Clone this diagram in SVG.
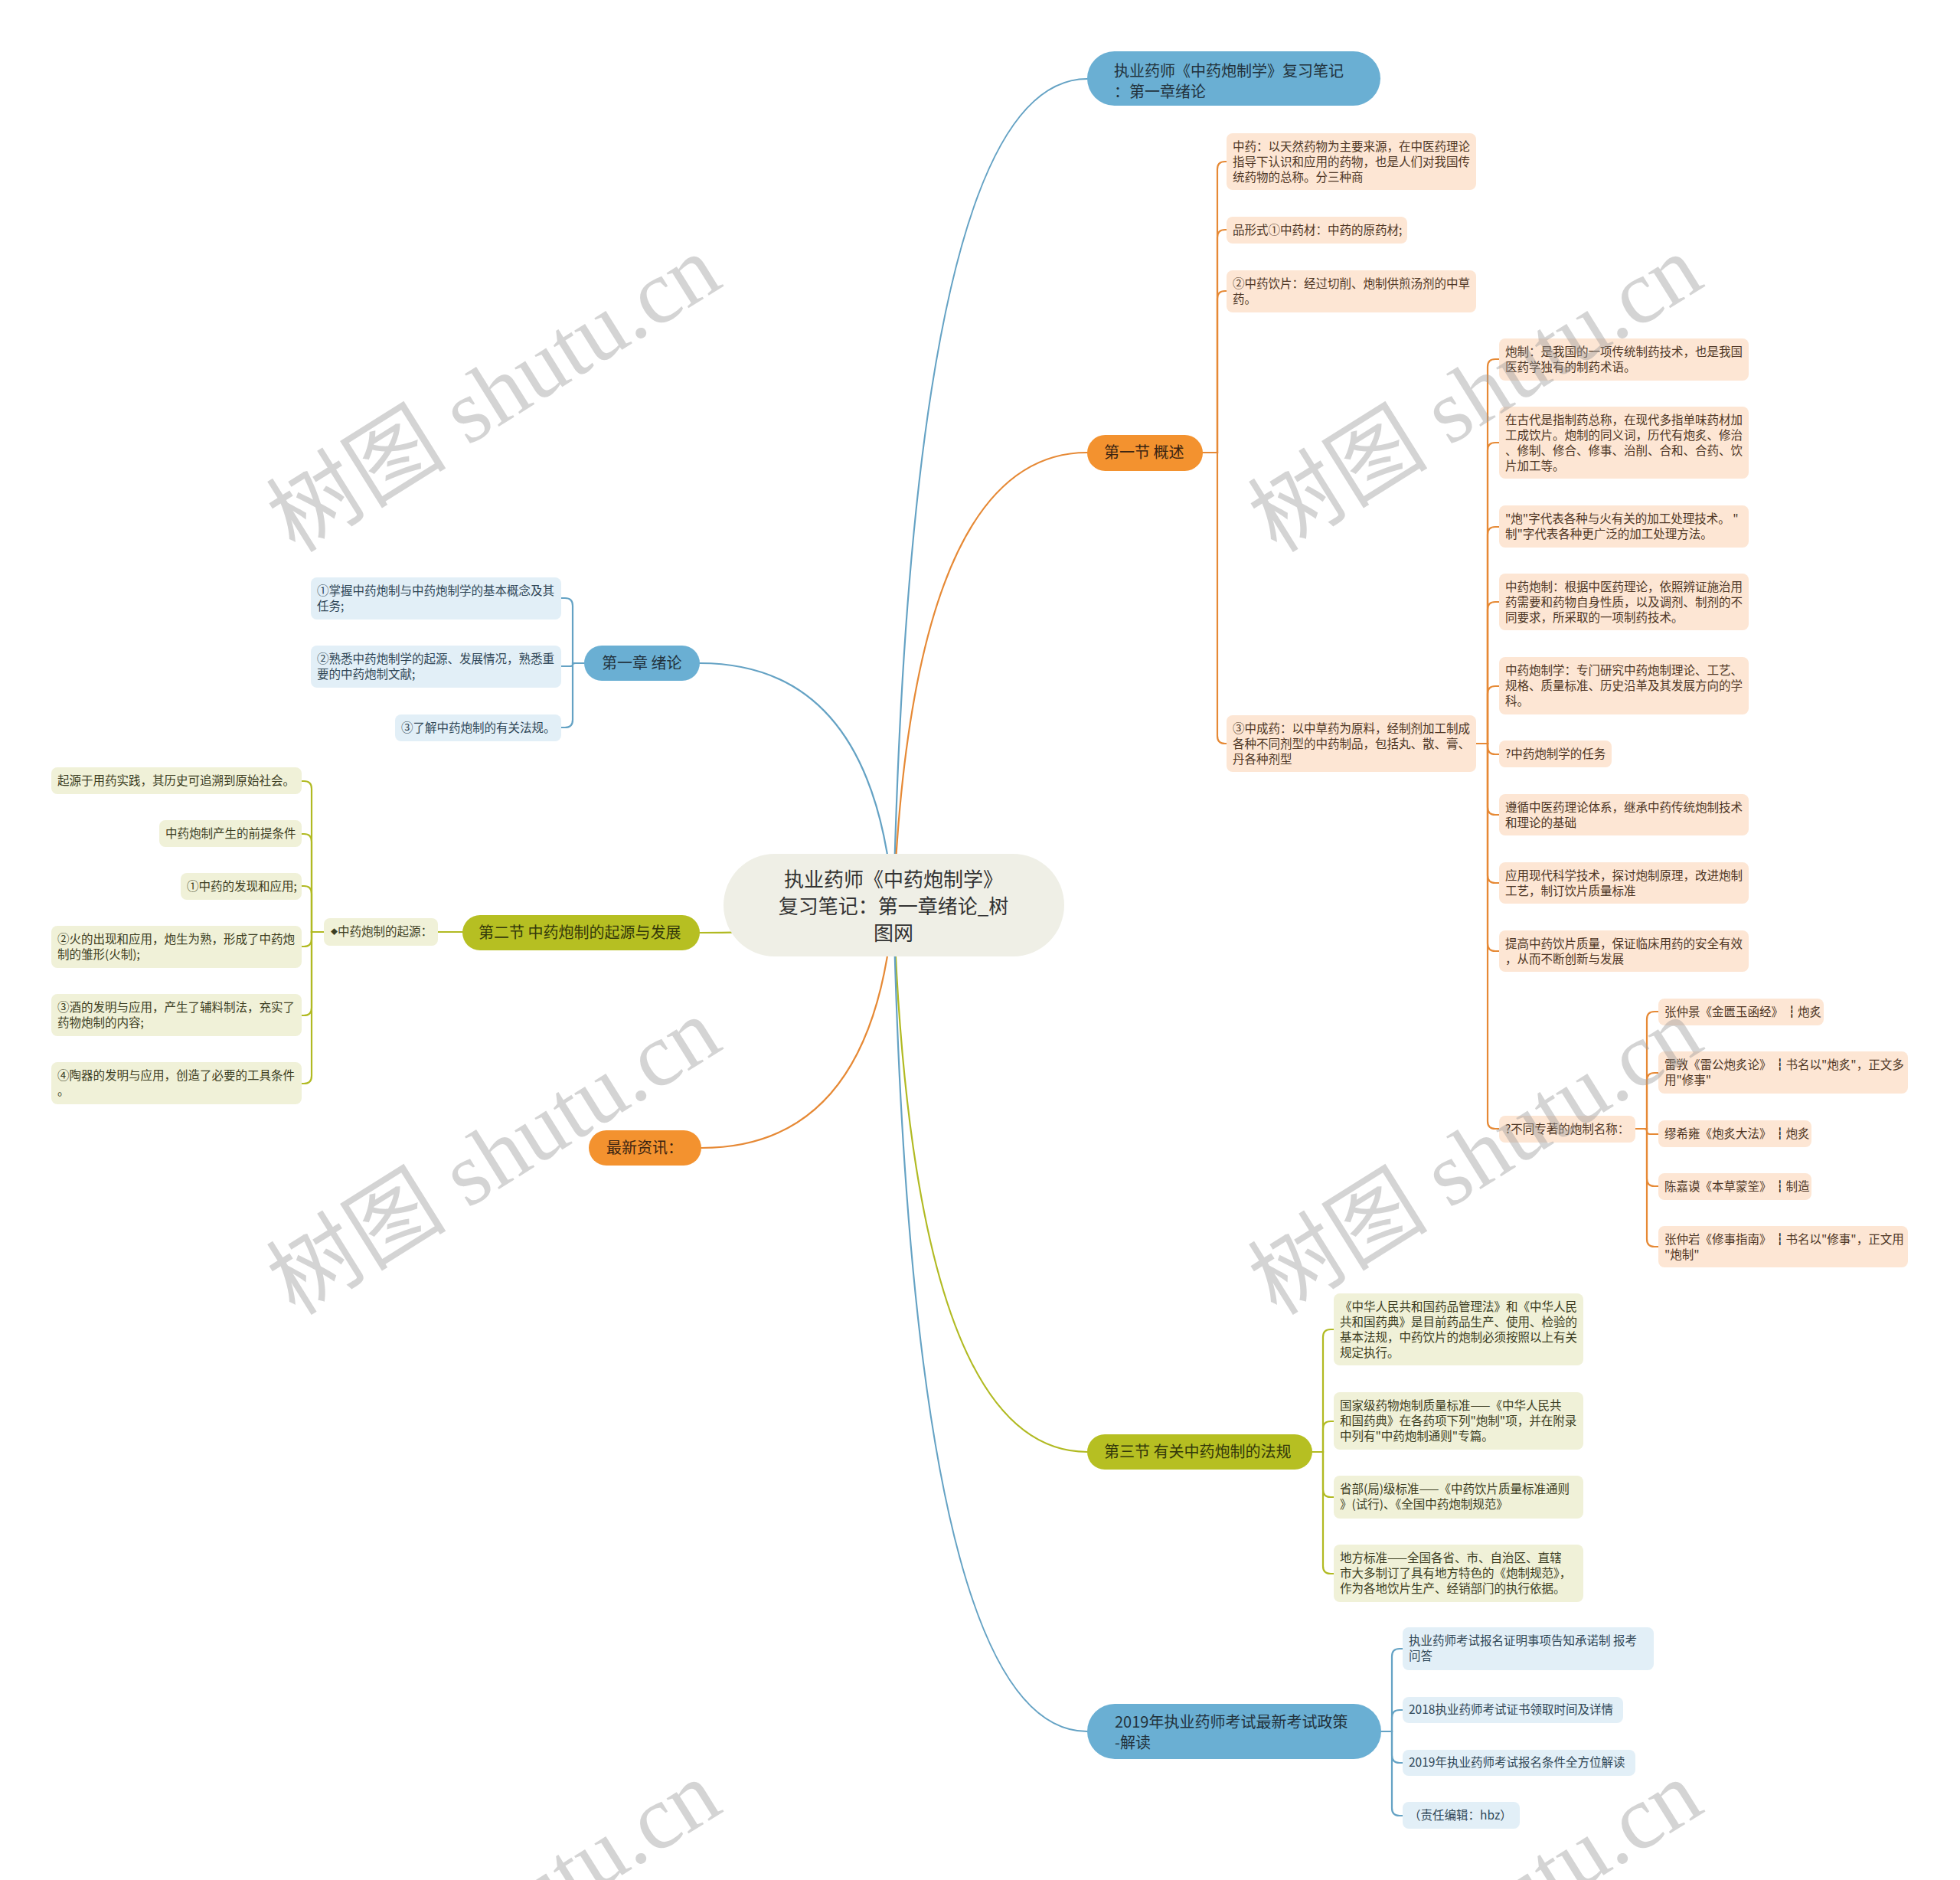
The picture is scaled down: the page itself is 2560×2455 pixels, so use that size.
<svg xmlns="http://www.w3.org/2000/svg" width="2560" height="2455" viewBox="0 0 2560 2455">
<style>
text{font-family:'Noto Sans CJK SC','Noto Sans',sans-serif}
.m{font-size:20px}
.l{font-size:15.5px}
.r{font-size:26px;fill:#333;text-anchor:middle}
.nb{fill:#6aafd3}.no{fill:#f3922f}.ng{fill:#b6bf22}
.tb{fill:#22323c}.to{fill:#3b2412}.tg{fill:#33380a}
.lo{fill:#fde6d4}.lb{fill:#e2eff7}.lg{fill:#f0f1d8}
.xo{fill:#4e3625}.xb{fill:#2f4656}.xg{fill:#3c3d22}
.bar{font-weight:900;fill:#2a1a0e;stroke:#2a1a0e;stroke-width:0.8}
.c{fill:none;stroke-width:2.2;stroke-linecap:round}
.cb{stroke:#64a2c4}.co{stroke:#e68935}.cg{stroke:#b1ba22}
.wm{font-family:'Liberation Serif','Noto Sans CJK SC',serif;font-size:118px;fill:#9a9a9a;opacity:.42;text-anchor:middle}
</style>
<rect width="2560" height="2455" fill="#fff"/>
<g id="connectors">
<path class="c cb" d="M1167 1182 Q1192 103 1420 103"/>
<path class="c co" d="M1167 1182 Q1192 591 1420 591"/>
<path class="c cg" d="M1167 1182 Q1192 1896 1420 1896"/>
<path class="c cb" d="M1167 1182 Q1192 2261 1420 2261"/>
<path class="c cb" d="M1167 1182 Q1142 866 914 866"/>
<path class="c cg" d="M1167 1182 Q1140 1218 914 1218"/>
<path class="c co" d="M1167 1182 Q1142 1499 916 1499"/>
<path class="c co" d="M1571 591 H1590 V221 Q1590 211 1600 211 H1602"/>
<path class="c co" d="M1571 591 H1590 V310 Q1590 300 1600 300 H1602"/>
<path class="c co" d="M1571 591 H1590 V390 Q1590 380 1600 380 H1602"/>
<path class="c co" d="M1571 591 H1590 V961 Q1590 971 1600 971 H1602"/>
<path class="c co" d="M1928 971 H1943 V479 Q1943 469 1953 469 H1958"/>
<path class="c co" d="M1928 971 H1943 V588 Q1943 578 1953 578 H1958"/>
<path class="c co" d="M1928 971 H1943 V698 Q1943 688 1953 688 H1958"/>
<path class="c co" d="M1928 971 H1943 V796 Q1943 786 1953 786 H1958"/>
<path class="c co" d="M1928 971 H1943 V906 Q1943 896 1953 896 H1958"/>
<path class="c co" d="M1928 971 H1943 V975 Q1943 985 1953 985 H1958"/>
<path class="c co" d="M1928 971 H1943 V1054 Q1943 1064 1953 1064 H1958"/>
<path class="c co" d="M1928 971 H1943 V1143 Q1943 1153 1953 1153 H1958"/>
<path class="c co" d="M1928 971 H1943 V1232 Q1943 1242 1953 1242 H1958"/>
<path class="c co" d="M1928 971 H1943 V1464 Q1943 1474 1953 1474 H1958"/>
<path class="c co" d="M2136 1474 H2151 V1331 Q2151 1321 2161 1321 H2166"/>
<path class="c co" d="M2136 1474 H2151 V1411 Q2151 1401 2161 1401 H2166"/>
<path class="c co" d="M2136 1474 H2147 Q2151 1474 2151 1477 Q2151 1481 2155 1481 H2166"/>
<path class="c co" d="M2136 1474 H2151 V1539 Q2151 1549 2161 1549 H2166"/>
<path class="c co" d="M2136 1474 H2151 V1618 Q2151 1628 2161 1628 H2166"/>
<path class="c cg" d="M1714 1896 H1728 V1746 Q1728 1736 1738 1736 H1742"/>
<path class="c cg" d="M1714 1896 H1728 V1866 Q1728 1856 1738 1856 H1742"/>
<path class="c cg" d="M1714 1896 H1728 V1945 Q1728 1955 1738 1955 H1742"/>
<path class="c cg" d="M1714 1896 H1728 V2045 Q1728 2055 1738 2055 H1742"/>
<path class="c cb" d="M1804 2261 H1818 V2163 Q1818 2153 1828 2153 H1832"/>
<path class="c cb" d="M1804 2261 H1818 V2243 Q1818 2233 1828 2233 H1832"/>
<path class="c cb" d="M1804 2261 H1818 V2292 Q1818 2302 1828 2302 H1832"/>
<path class="c cb" d="M1804 2261 H1818 V2361 Q1818 2371 1828 2371 H1832"/>
<path class="c cb" d="M763 866 H748 V791 Q748 781 738 781 H733"/>
<path class="c cb" d="M763 866 H752 Q748 866 748 868 Q748 870 744 870 H733"/>
<path class="c cb" d="M763 866 H748 V940 Q748 950 738 950 H733"/>
<path class="c cg" d="M604 1217 H572"/>
<path class="c cg" d="M423 1217 H407 V1030 Q407 1020 397 1020 H394"/>
<path class="c cg" d="M423 1217 H407 V1099 Q407 1089 397 1089 H394"/>
<path class="c cg" d="M423 1217 H407 V1167 Q407 1157 397 1157 H394"/>
<path class="c cg" d="M423 1217 H407 V1226 Q407 1236 397 1236 H394"/>
<path class="c cg" d="M423 1217 H407 V1316 Q407 1326 397 1326 H394"/>
<path class="c cg" d="M423 1217 H407 V1405 Q407 1415 397 1415 H394"/>
</g>

<g id="root"><rect x="945" y="1115" width="445" height="134" rx="67" fill="#efefe6"/>
<text class="r" x="1167" y="1158">执业药师《中药炮制学》</text>
<text class="r" x="1167" y="1193">复习笔记：第一章绪论_树</text>
<text class="r" x="1167" y="1228">图网</text></g>

<g id="n-title"><rect class="nb" x="1420" y="67" width="383" height="71" rx="35.5"/>
<text class="m tb" x="1455" y="100">执业药师《中药炮制学》复习笔记</text>
<text class="m tb" x="1455" y="127">：第一章绪论</text></g>

<g id="n-sec1"><rect class="no" x="1420" y="568" width="151" height="47" rx="23.5"/>
<text class="m to" x="1442" y="598">第一节 概述</text></g>

<g id="n-ch1"><rect class="nb" x="763" y="843" width="151" height="46" rx="23"/>
<text class="m tb" x="786" y="873">第一章 绪论</text></g>

<g id="n-sec2"><rect class="ng" x="604" y="1195" width="310" height="46" rx="23"/>
<text class="m tg" x="625" y="1225">第二节 中药炮制的起源与发展</text></g>

<g id="n-news"><rect class="no" x="769" y="1476" width="147" height="46" rx="23"/>
<text class="m to" x="792" y="1506">最新资讯：</text></g>

<g id="n-sec3"><rect class="ng" x="1420" y="1873" width="294" height="46" rx="23"/>
<text class="m tg" x="1442" y="1903">第三节 有关中药炮制的法规</text></g>

<g id="n-2019"><rect class="nb" x="1420" y="2225" width="384" height="72" rx="36"/>
<text class="m tb" x="1456" y="2256">2019年执业药师考试最新考试政策</text>
<text class="m tb" x="1456" y="2283">-解读</text></g>

<g id="c1"><rect class="lo" x="1602" y="174" width="326" height="74" rx="8"/>
<text class="l xo" x="1610" y="197"><tspan x="1610">中药：以天然药物为主要来源，在中医药理论</tspan><tspan x="1610" dy="20">指导下认识和应用的药物，也是人们对我国传</tspan><tspan x="1610" dy="20">统药物的总称。分三种商</tspan></text></g>
<g id="c2"><rect class="lo" x="1602" y="283" width="236" height="35" rx="8"/>
<text class="l xo" x="1610" y="306">品形式①中药材：中药的原药材;</text></g>
<g id="c3"><rect class="lo" x="1602" y="353" width="326" height="55" rx="8"/>
<text class="l xo" x="1610" y="376"><tspan x="1610">②中药饮片：经过切削、炮制供煎汤剂的中草</tspan><tspan x="1610" dy="20">药。</tspan></text></g>
<g id="c4"><rect class="lo" x="1602" y="934" width="326" height="74" rx="8"/>
<text class="l xo" x="1610" y="957"><tspan x="1610">③中成药：以中草药为原料，经制剂加工制成</tspan><tspan x="1610" dy="20">各种不同剂型的中药制品，包括丸、散、膏、</tspan><tspan x="1610" dy="20">丹各种剂型</tspan></text></g>

<g id="d1"><rect class="lo" x="1958" y="442" width="326" height="55" rx="8"/>
<text class="l xo" x="1966" y="465"><tspan x="1966">炮制：是我国的一项传统制药技术，也是我国</tspan><tspan x="1966" dy="20">医药学独有的制药术语。</tspan></text></g>
<g id="d2"><rect class="lo" x="1958" y="531" width="326" height="94" rx="8"/>
<text class="l xo" x="1966" y="554"><tspan x="1966">在古代是指制药总称，在现代多指单味药材加</tspan><tspan x="1966" dy="20">工成饮片。炮制的同义词，历代有炮炙、修治</tspan><tspan x="1966" dy="20">、修制、修合、修事、治削、合和、合药、饮</tspan><tspan x="1966" dy="20">片加工等。</tspan></text></g>
<g id="d3"><rect class="lo" x="1958" y="660" width="326" height="55" rx="8"/>
<text class="l xo" x="1966" y="683"><tspan x="1966">"炮"字代表各种与火有关的加工处理技术。 "</tspan><tspan x="1966" dy="20">制"字代表各种更广泛的加工处理方法。</tspan></text></g>
<g id="d4"><rect class="lo" x="1958" y="749" width="326" height="74" rx="8"/>
<text class="l xo" x="1966" y="772"><tspan x="1966">中药炮制：根据中医药理论，依照辨证施治用</tspan><tspan x="1966" dy="20">药需要和药物自身性质，以及调剂、制剂的不</tspan><tspan x="1966" dy="20">同要求，所采取的一项制药技术。</tspan></text></g>
<g id="d5"><rect class="lo" x="1958" y="858" width="326" height="75" rx="8"/>
<text class="l xo" x="1966" y="881"><tspan x="1966">中药炮制学：专门研究中药炮制理论、工艺、</tspan><tspan x="1966" dy="20">规格、质量标准、历史沿革及其发展方向的学</tspan><tspan x="1966" dy="20">科。</tspan></text></g>
<g id="d6"><rect class="lo" x="1958" y="967" width="147" height="35" rx="8"/>
<text class="l xo" x="1966" y="990">?中药炮制学的任务</text></g>
<g id="d7"><rect class="lo" x="1958" y="1037" width="326" height="54" rx="8"/>
<text class="l xo" x="1966" y="1060"><tspan x="1966">遵循中医药理论体系，继承中药传统炮制技术</tspan><tspan x="1966" dy="20">和理论的基础</tspan></text></g>
<g id="d8"><rect class="lo" x="1958" y="1126" width="326" height="54" rx="8"/>
<text class="l xo" x="1966" y="1149"><tspan x="1966">应用现代科学技术，探讨炮制原理，改进炮制</tspan><tspan x="1966" dy="20">工艺，制订饮片质量标准</tspan></text></g>
<g id="d9"><rect class="lo" x="1958" y="1215" width="326" height="54" rx="8"/>
<text class="l xo" x="1966" y="1238"><tspan x="1966">提高中药饮片质量，保证临床用药的安全有效</tspan><tspan x="1966" dy="20">，从而不断创新与发展</tspan></text></g>
<g id="d10"><rect class="lo" x="1958" y="1457" width="178" height="35" rx="8"/>
<text class="l xo" x="1966" y="1480">?不同专著的炮制名称：</text></g>

<g id="e1"><rect class="lo" x="2166" y="1304" width="216" height="35" rx="8"/>
<text class="l xo" x="2174" y="1327">张仲景《金匮玉函经》 <tspan class="bar">┆</tspan>炮炙</text></g>
<g id="e2"><rect class="lo" x="2166" y="1373" width="326" height="55" rx="8"/>
<text class="l xo" x="2174" y="1396"><tspan x="2174">雷敩《雷公炮炙论》 <tspan class="bar">┆</tspan>书名以"炮炙"，正文多</tspan><tspan x="2174" dy="20">用"修事"</tspan></text></g>
<g id="e3"><rect class="lo" x="2166" y="1463" width="200" height="35" rx="8"/>
<text class="l xo" x="2174" y="1486">缪希雍《炮炙大法》 <tspan class="bar">┆</tspan>炮炙</text></g>
<g id="e4"><rect class="lo" x="2166" y="1532" width="200" height="35" rx="8"/>
<text class="l xo" x="2174" y="1555">陈嘉谟《本草蒙筌》 <tspan class="bar">┆</tspan>制造</text></g>
<g id="e5"><rect class="lo" x="2166" y="1601" width="326" height="54" rx="8"/>
<text class="l xo" x="2174" y="1624"><tspan x="2174">张仲岩《修事指南》 <tspan class="bar">┆</tspan>书名以"修事"，正文用</tspan><tspan x="2174" dy="20">"炮制"</tspan></text></g>

<g id="i1"><rect class="lg" x="1742" y="1689" width="326" height="94" rx="8"/>
<text class="l xg" x="1750" y="1712"><tspan x="1750">《中华人民共和国药品管理法》和《中华人民</tspan><tspan x="1750" dy="20">共和国药典》是目前药品生产、使用、检验的</tspan><tspan x="1750" dy="20">基本法规，中药饮片的炮制必须按照以上有关</tspan><tspan x="1750" dy="20">规定执行。</tspan></text></g>
<g id="i2"><rect class="lg" x="1742" y="1818" width="326" height="75" rx="8"/>
<text class="l xg" x="1750" y="1841"><tspan x="1750">国家级药物炮制质量标准——《中华人民共</tspan><tspan x="1750" dy="20">和国药典》在各药项下列"炮制"项，并在附录</tspan><tspan x="1750" dy="20">中列有"中药炮制通则"专篇。</tspan></text></g>
<g id="i3"><rect class="lg" x="1742" y="1927" width="326" height="56" rx="8"/>
<text class="l xg" x="1750" y="1950"><tspan x="1750">省部(局)级标准——《中药饮片质量标准通则</tspan><tspan x="1750" dy="20">》(试行)、《全国中药炮制规范》</tspan></text></g>
<g id="i4"><rect class="lg" x="1742" y="2017" width="326" height="75" rx="8"/>
<text class="l xg" x="1750" y="2040"><tspan x="1750">地方标准——全国各省、市、自治区、直辖</tspan><tspan x="1750" dy="20">市大多制订了具有地方特色的《炮制规范》，</tspan><tspan x="1750" dy="20">作为各地饮片生产、经销部门的执行依据。</tspan></text></g>

<g id="f1"><rect class="lb" x="1832" y="2125" width="328" height="56" rx="8"/>
<text class="l xb" x="1840" y="2148"><tspan x="1840">执业药师考试报名证明事项告知承诺制 报考</tspan><tspan x="1840" dy="20">问答</tspan></text></g>
<g id="f2"><rect class="lb" x="1832" y="2216" width="288" height="34" rx="8"/>
<text class="l xb" x="1840" y="2238">2018执业药师考试证书领取时间及详情</text></g>
<g id="f3"><rect class="lb" x="1832" y="2285" width="304" height="34" rx="8"/>
<text class="l xb" x="1840" y="2307">2019年执业药师考试报名条件全方位解读</text></g>
<g id="f4"><rect class="lb" x="1832" y="2353" width="153" height="35" rx="8"/>
<text class="l xb" x="1840" y="2376">（责任编辑：hbz）</text></g>

<g id="k1"><rect class="lb" x="406" y="754" width="327" height="55" rx="8"/>
<text class="l xb" x="414" y="777"><tspan x="414">①掌握中药炮制与中药炮制学的基本概念及其</tspan><tspan x="414" dy="20">任务;</tspan></text></g>
<g id="k2"><rect class="lb" x="406" y="843" width="327" height="55" rx="8"/>
<text class="l xb" x="414" y="866"><tspan x="414">②熟悉中药炮制学的起源、发展情况，熟悉重</tspan><tspan x="414" dy="20">要的中药炮制文献;</tspan></text></g>
<g id="k3"><rect class="lb" x="516" y="933" width="217" height="35" rx="8"/>
<text class="l xb" x="524" y="956">③了解中药炮制的有关法规。</text></g>

<g id="g1"><rect class="lg" x="423" y="1199" width="149" height="36" rx="8"/>
<text class="l xg" x="432" y="1222"><tspan font-size="9" dy="-2">◆</tspan><tspan dy="2">中药炮制的起源：</tspan></text></g>
<g id="h1"><rect class="lg" x="67" y="1002" width="327" height="35" rx="8"/>
<text class="l xg" x="75" y="1025">起源于用药实践，其历史可追溯到原始社会。</text></g>
<g id="h2"><rect class="lg" x="208" y="1071" width="186" height="35" rx="8"/>
<text class="l xg" x="216" y="1094">中药炮制产生的前提条件</text></g>
<g id="h3"><rect class="lg" x="236" y="1140" width="158" height="35" rx="8"/>
<text class="l xg" x="244" y="1163">①中药的发现和应用;</text></g>
<g id="h4"><rect class="lg" x="67" y="1209" width="327" height="55" rx="8"/>
<text class="l xg" x="75" y="1232"><tspan x="75">②火的出现和应用，炮生为熟，形成了中药炮</tspan><tspan x="75" dy="20">制的雏形(火制);</tspan></text></g>
<g id="h5"><rect class="lg" x="67" y="1298" width="327" height="55" rx="8"/>
<text class="l xg" x="75" y="1321"><tspan x="75">③酒的发明与应用，产生了辅料制法，充实了</tspan><tspan x="75" dy="20">药物炮制的内容;</tspan></text></g>
<g id="h6"><rect class="lg" x="67" y="1387" width="327" height="55" rx="8"/>
<text class="l xg" x="75" y="1410"><tspan x="75">④陶器的发明与应用，创造了必要的工具条件</tspan><tspan x="75" dy="20">。</tspan></text></g>

<g id="watermark">
<text class="wm" transform="translate(645 514) rotate(-32)" y="40">树图 shutu.cn</text>
<text class="wm" transform="translate(1927 514) rotate(-32)" y="40">树图 shutu.cn</text>
<text class="wm" transform="translate(645 1510) rotate(-32)" y="40">树图 shutu.cn</text>
<text class="wm" transform="translate(1927 1510) rotate(-32)" y="40">树图 shutu.cn</text>
<text class="wm" transform="translate(645 2506) rotate(-32)" y="40">树图 shutu.cn</text>
<text class="wm" transform="translate(1927 2506) rotate(-32)" y="40">树图 shutu.cn</text>
</g>
</svg>
